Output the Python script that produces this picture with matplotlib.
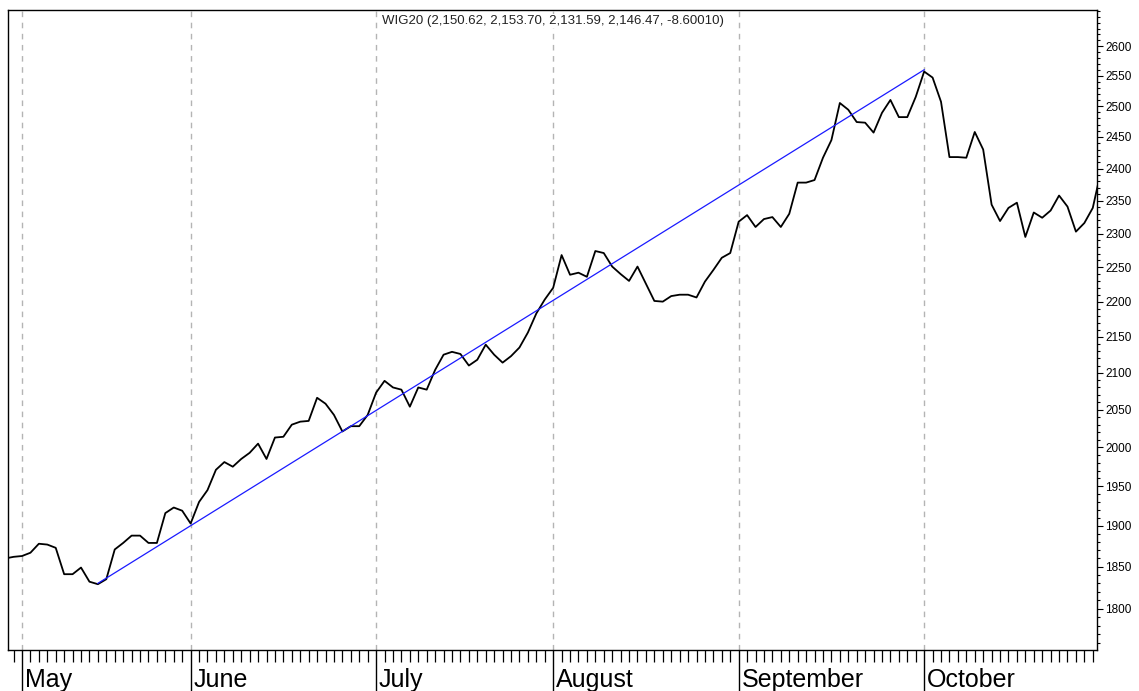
import numpy as np
import matplotlib
matplotlib.use("Agg")
import matplotlib.pyplot as plt
from matplotlib.ticker import FixedLocator, NullFormatter

# WIG20 daily closes, one value per trading session.
# Session 0 is the first session of May, the two before it are late April.
first_session = -2
wig20_close = [
    1860, 1862, 1863, 1867, 1878, 1877, 1873, 1841, 1841, 1849,
    1832, 1829, 1835, 1871, 1879, 1888, 1888, 1879, 1879, 1916,
    1923, 1919, 1903, 1930, 1945, 1971, 1981, 1975, 1985, 1993,
    2005, 1985, 2013, 2014, 2030, 2034, 2035, 2066, 2058, 2043,
    2021, 2028, 2028, 2043, 2073, 2089, 2080, 2077, 2054, 2080,
    2077, 2104, 2125, 2129, 2126, 2110, 2118, 2139, 2125, 2114,
    2123, 2135, 2156, 2183, 2203, 2220, 2268, 2239, 2242, 2236,
    2274, 2271, 2251, 2240, 2230, 2251, 2226, 2201, 2200, 2208,
    2210, 2210, 2206, 2229, 2246, 2264, 2271, 2318, 2328, 2310,
    2322, 2325, 2310, 2330, 2378, 2378, 2382, 2417, 2445, 2505,
    2494, 2474, 2473, 2457, 2489, 2510, 2482, 2482, 2515, 2557,
    2547, 2507, 2418, 2418, 2417, 2458, 2430, 2344, 2319, 2339,
    2347, 2295, 2332, 2324, 2335, 2358, 2341, 2303, 2316, 2339,
    2398,
]

# session index of the first session in each month
month_starts = [0, 20, 42, 63, 85, 107]
month_labels = ["May", "June", "July", "August", "September", "October"]

# trend line from the May low to the October high
trend_sessions = [9, 107]
trend_values = [1830, 2560]

y_ticks = list(range(1800, 2650, 50))
y_minor = list(range(1760, 2670, 10))

chart_title = "WIG20 (2,150.62, 2,153.70, 2,131.59, 2,146.47, -8.60010)"

W, H = 1139, 691
fig = plt.figure(figsize=(W / 100, H / 100), dpi=100)
plt.rcParams["font.family"] = ["Liberation Sans", "DejaVu Sans"]
ax = fig.add_axes([8 / W, 41 / H, 1089 / W, 640 / H])

sessions = np.arange(first_session, first_session + len(wig20_close))
ax.plot(sessions, wig20_close, color="black", lw=1.3, zorder=3)
ax.plot(trend_sessions, trend_values, color="#1a1aff", lw=0.9, zorder=4)

ax.set_yscale("log")
ax.set_xlim(-1.66, 127.5)
ax.set_ylim(1752, 2662)

# month grid
for m in month_starts:
    ax.axvline(m, color="#b4b4b4", lw=1, ls=(0, (4, 4)), zorder=1)

# y axis on the right
ax.yaxis.tick_right()
ax.yaxis.set_major_locator(FixedLocator(y_ticks))
ax.yaxis.set_major_formatter(plt.FixedFormatter([str(v) for v in y_ticks]))
ax.yaxis.set_minor_locator(FixedLocator(y_minor))
ax.yaxis.set_minor_formatter(NullFormatter())
ax.tick_params(axis="y", which="major", length=4.5, width=0.8,
               labelsize=8.5, pad=1.5, colors="black")
ax.tick_params(axis="y", which="minor", length=2.2, width=0.8)

# x axis: one minor tick per session, long ticks at month starts
ax.xaxis.set_major_locator(FixedLocator(month_starts))
ax.xaxis.set_major_formatter(NullFormatter())
ax.xaxis.set_minor_locator(FixedLocator(np.arange(-1, 128)))
ax.tick_params(axis="x", which="major", length=30, width=1.0)
ax.tick_params(axis="x", which="minor", length=8.5, width=0.9)

for m, lab in zip(month_starts, month_labels):
    ax.annotate(lab, xy=(m, 0), xycoords=("data", "axes fraction"),
                xytext=(2, -26.5), textcoords="offset points",
                ha="left", va="baseline", fontsize=18, color="black",
                annotation_clip=False)

for side in ax.spines.values():
    side.set_linewidth(1.0)
    side.set_color("black")

ax.text(0.5, 1 - 11 / 640, chart_title, transform=ax.transAxes,
        ha="center", va="center", fontsize=9.5, color="#222222",
        bbox=dict(facecolor="white", edgecolor="none", pad=1.0), zorder=5)

fig.savefig("out.png", dpi=100)
